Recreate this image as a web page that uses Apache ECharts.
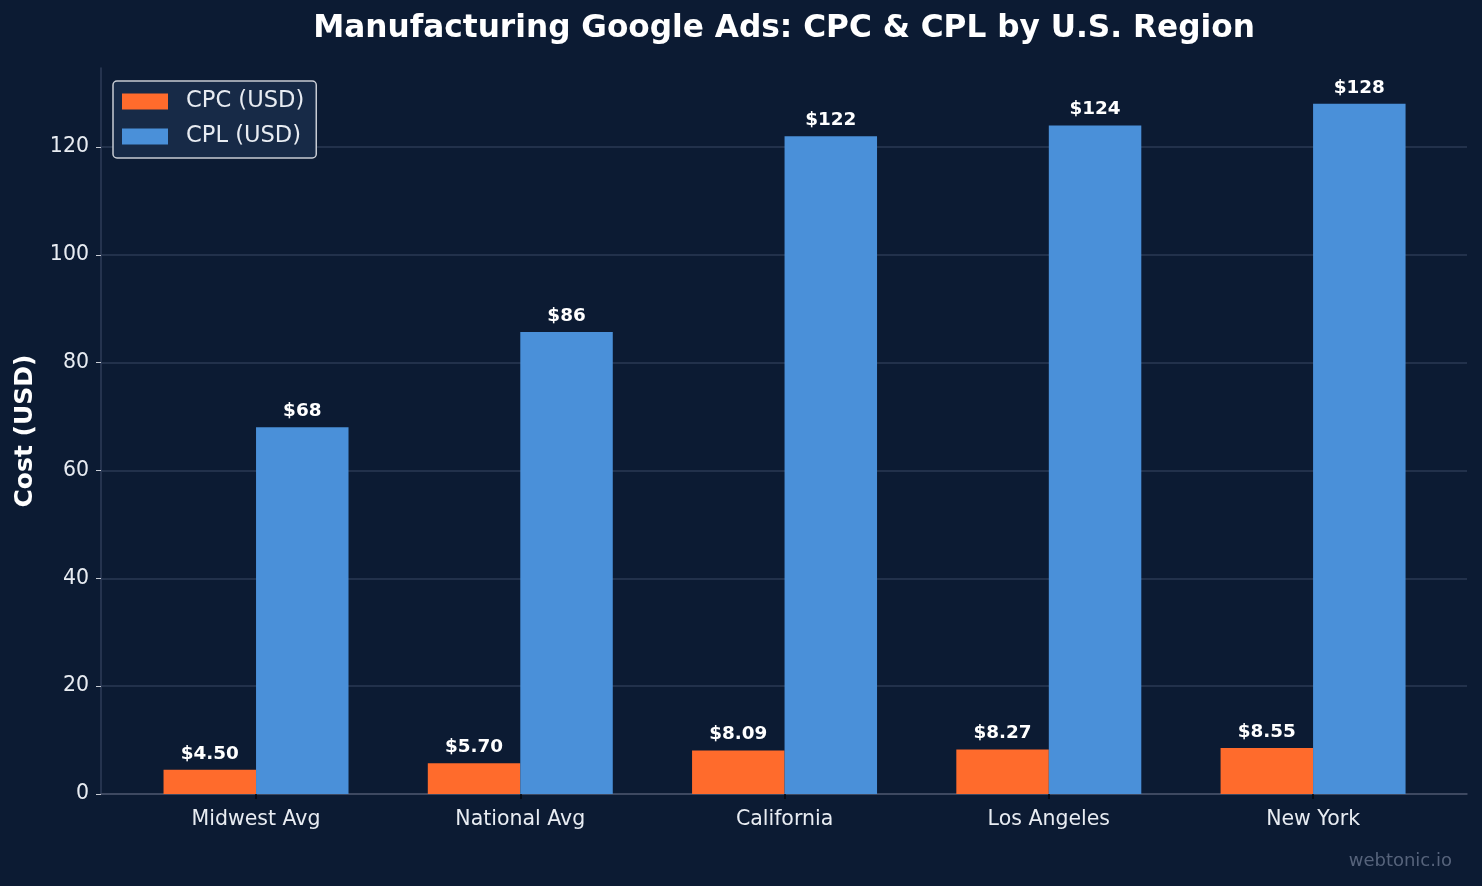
<!DOCTYPE html>
<html><head><meta charset="utf-8">
<script src="https://cdn.jsdelivr.net/npm/echarts@6/dist/echarts.min.js"></script>
<style>html,body{margin:0;padding:0;background:#0c1b33;}#c{width:1482px;height:886px;}</style>
</head><body><div id="c"></div>
<script>
const categories = ['Midwest Avg', 'National Avg', 'California', 'Los Angeles', 'New York'];
const cpcValues = [4.50, 5.70, 8.09, 8.27, 8.55];
const cplValues = [68, 85.7, 122, 124, 128];
const seriesNames = ['CPC (USD)', 'CPL (USD)'];
const yTicks = [0, 20, 40, 60, 80, 100, 120];

const FONT = 'DejaVu Sans';
const chart = echarts.init(document.getElementById('c'), null, {renderer: 'canvas'});
const yMax = 134.65;
chart.setOption({
  backgroundColor: '#0c1b33',
  animation: false,
  textStyle: {fontFamily: FONT},
  grid: [
    {left: 101, right: 15, top: 68, bottom: 92, containLabel: false, outerBoundsMode: 'none'},
    {left: 123.9, right: 36.8, top: 68, bottom: 92, containLabel: false, outerBoundsMode: 'none'}
  ],
  xAxis: [
    {gridIndex: 0, type: 'value', min: 0, max: 1, axisLine: {show: true, lineStyle: {color: '#48526a', width: 1.5}},
     axisTick: {show: false}, axisLabel: {show: false}, splitLine: {show: false}},
    {gridIndex: 1, type: 'category', data: categories, boundaryGap: true,
     axisLine: {show: false}, axisTick: {show: true, alignWithLabel: true, length: 5, lineStyle: {color: '#05070d', width: 1.5}},
     axisLabel: {fontFamily: FONT, fontSize: 20.5, color: '#e8ecf2', margin: 15}}
  ],
  yAxis: [
    {gridIndex: 0, type: 'value', min: 0, max: yMax, interval: 20,
     axisLine: {show: true, lineStyle: {color: '#2e3d58', width: 1.5}},
     axisTick: {show: true, length: 5, lineStyle: {color: '#c8ccd4'}},
     axisLabel: {fontFamily: FONT, fontSize: 20.5, color: '#e8ecf2', margin: 12, showMaxLabel: false,
       formatter: v => yTicks.includes(v) ? String(v) : ''},
     splitLine: {show: true, showMaxLine: false, lineStyle: {color: '#2a3a55', width: 1.5}},
     name: 'Cost (USD)', nameLocation: 'middle', nameGap: 63,
     nameTextStyle: {fontFamily: FONT, fontSize: 25, fontWeight: 'bold', color: '#ffffff'}},
    {gridIndex: 1, type: 'value', min: 0, max: yMax, show: false}
  ],
  legend: {
    orient: 'vertical', left: 113, top: 81, data: seriesNames,
    icon: 'rect', itemWidth: 46, itemHeight: 16, itemGap: 12,
    padding: [9, 12, 10, 9],
    backgroundColor: '#172a47', borderColor: '#c8ccd4', borderWidth: 1.5, borderRadius: 4,
    textStyle: {fontFamily: FONT, fontSize: 22.6, color: '#e8ecf2', lineHeight: 22, padding: [0, 0, 0, 13]}
  },
  series: [
    {name: seriesNames[0], type: 'bar', xAxisIndex: 1, yAxisIndex: 1, data: cpcValues,
     barWidth: '35%', barGap: '0%', itemStyle: {color: '#ff6b2c'},
     label: {show: true, position: 'top', distance: 7, fontFamily: FONT, fontSize: 18.4, fontWeight: 'bold', color: '#ffffff',
       formatter: p => '$' + p.value.toFixed(2)}},
    {name: seriesNames[1], type: 'bar', xAxisIndex: 1, yAxisIndex: 1, data: cplValues,
     barWidth: '35%', barGap: '0%', itemStyle: {color: '#4a90d9'},
     label: {show: true, position: 'top', distance: 7, fontFamily: FONT, fontSize: 18.4, fontWeight: 'bold', color: '#ffffff',
       formatter: p => '$' + Math.round(p.value)}}
  ],
  graphic: [
    {type: 'text', x: 784, y: 29, style: {text: 'Manufacturing Google Ads: CPC & CPL by U.S. Region', fill: '#ffffff',
      font: 'bold 31.2px "DejaVu Sans"', textAlign: 'center', textVerticalAlign: 'middle'}},
    {type: 'text', x: 1452, y: 861, style: {text: 'webtonic.io', fill: '#56637b',
      font: '18px "DejaVu Sans"', textAlign: 'right', textVerticalAlign: 'middle'}}
  ]
});
</script></body></html>
